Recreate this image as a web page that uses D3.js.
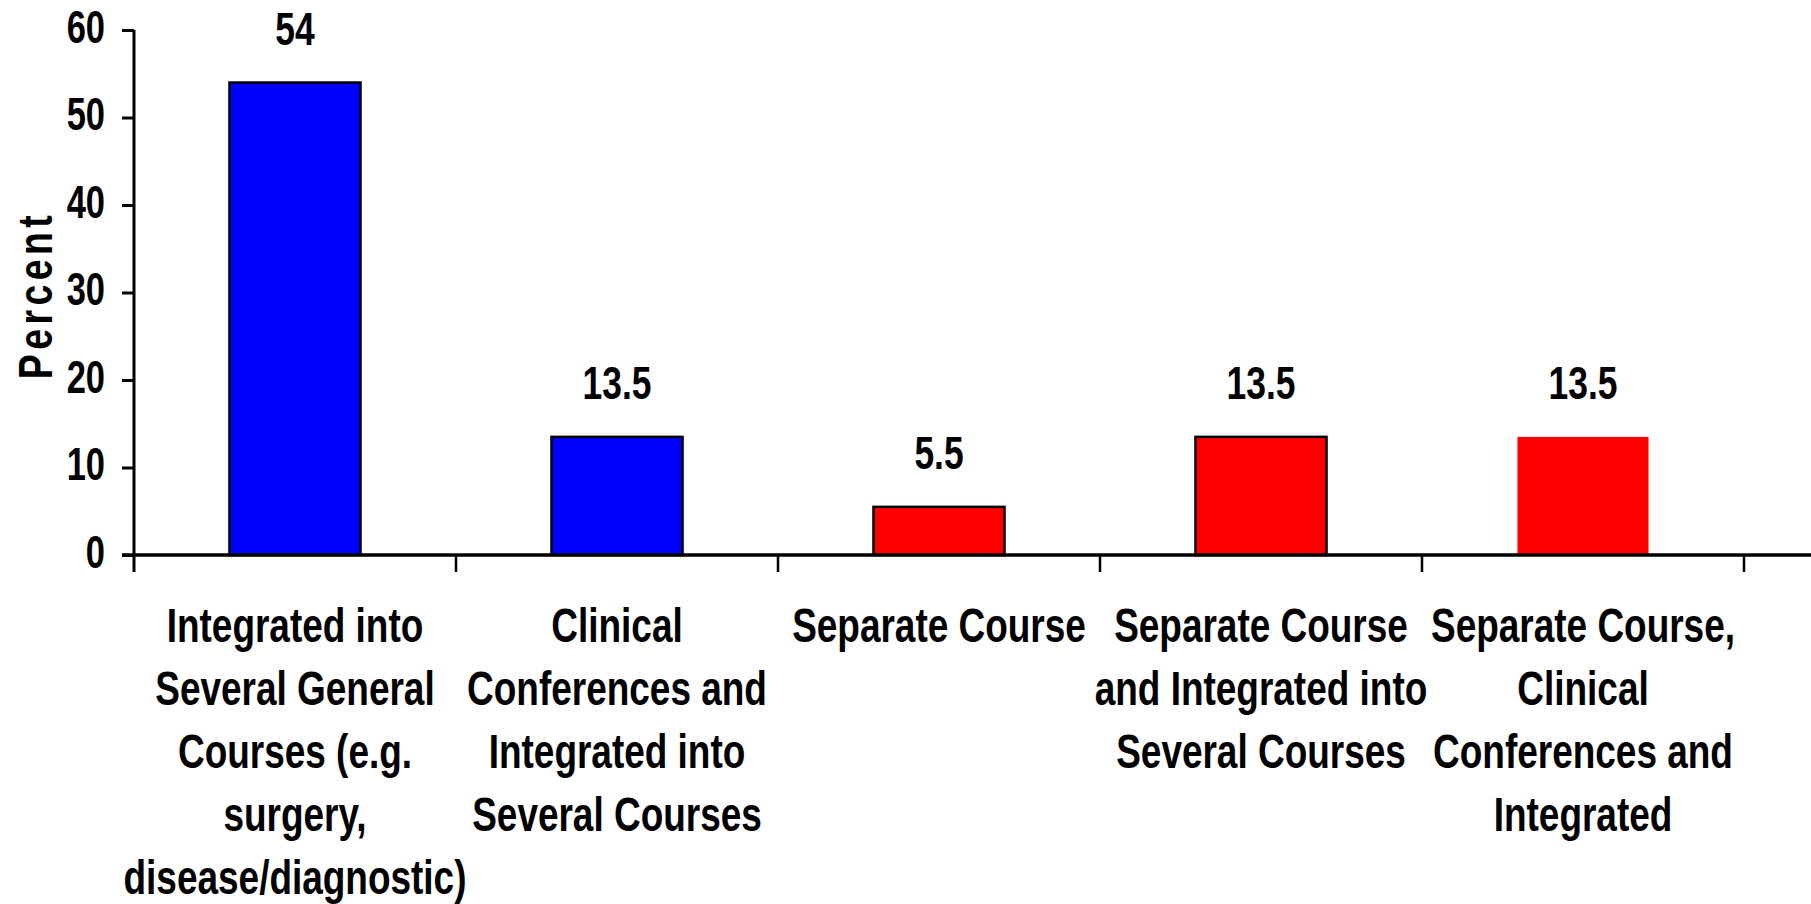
<!DOCTYPE html>
<meta charset="utf-8">
<script src="https://d3js.org/d3.v7.js"></script>
<style type="text/css">
	body { margin: 0; background: #fff; }
	text { font-family: "Liberation Sans", Arial, sans-serif; font-weight: bold; fill: #000; }
</style>
<div id="mychart"></div>

<script>
// curriculum placement chart
const categories = [
	["Integrated into", "Several General", "Courses (e.g.", "surgery,", "disease/diagnostic)"],
	["Clinical", "Conferences and", "Integrated into", "Several Courses"],
	["Separate Course"],
	["Separate Course", "and Integrated into", "Several Courses"],
	["Separate Course,", "Clinical", "Conferences and", "Integrated"]
];
const values = [54, 13.5, 5.5, 13.5, 13.5];
const valueLabels = ["54", "13.5", "5.5", "13.5", "13.5"];
const groups = ["Integrated", "Integrated", "Separate", "Separate", "Separate"];
const yTicks = [0, 10, 20, 30, 40, 50, 60];

const width = 1811, height = 904;
const x0 = 134, step = 322, yBase = 555, yTop = 30;
const narrow = 0.77;

var svg = d3.select("#mychart")
	.append("svg")
	.attr("width", width)
	.attr("height", height);

var idx = d3.range(values.length);

var x = d3.scaleBand()
	.domain(idx)
	.range([x0, x0 + step * values.length])
	.paddingInner(0.593)
	.paddingOuter(0.593 / 2);

var y = d3.scaleLinear()
	.domain([0, 60])
	.range([yBase, yTop]);

var color = d3.scaleOrdinal()
	.domain(["Integrated", "Separate"])
	.range(["#0000FF", "#FF0000"]);

// bars
svg.append("g")
	.selectAll("rect")
	.data(idx)
	.enter().append("rect")
	.attr("x", d => x(d))
	.attr("y", d => y(values[d]))
	.attr("width", x.bandwidth())
	.attr("height", d => yBase - y(values[d]))
	.attr("fill", d => color(groups[d]))
	.attr("stroke", d => d < values.length - 1 ? "#000" : "none")
	.attr("stroke-width", 2.5);

// value labels
svg.append("g")
	.selectAll("text")
	.data(idx)
	.enter().append("text")
	.attr("transform", d => `translate(${x(d) + x.bandwidth() / 2},${y(values[d]) - 38}) scale(${narrow},1)`)
	.attr("text-anchor", "middle")
	.style("font-size", "46px")
	.text(d => valueLabels[d]);

// y axis
var yAxis = d3.axisLeft(y)
	.tickValues(yTicks)
	.tickSize(12)
	.tickPadding(0)
	.tickFormat(d3.format("d"));
var gy = svg.append("g")
	.attr("transform", `translate(${x0},0)`)
	.call(yAxis);
gy.select(".domain").remove();
gy.selectAll(".tick line").attr("stroke", "#000").attr("stroke-width", 3);
gy.selectAll(".tick text")
	.attr("x", null).attr("dy", null)
	.attr("transform", "translate(-29,12) scale(0.75,1)")
	.attr("text-anchor", "end")
	.style("font-size", "46px");
svg.append("line")
	.attr("x1", x0).attr("x2", x0)
	.attr("y1", yTop).attr("y2", yBase + 17)
	.attr("stroke", "#000").attr("stroke-width", 3);

// x axis baseline + boundary ticks
svg.append("line")
	.attr("x1", x0 - 12).attr("x2", width)
	.attr("y1", yBase).attr("y2", yBase)
	.attr("stroke", "#000").attr("stroke-width", 3.5);
svg.append("g")
	.selectAll("line")
	.data(d3.range(1, values.length + 1))
	.enter().append("line")
	.attr("x1", d => x0 + d * x.step()).attr("x2", d => x0 + d * x.step())
	.attr("y1", yBase).attr("y2", yBase + 17)
	.attr("stroke", "#000").attr("stroke-width", 2.5);

// category labels
var cat = svg.append("g")
	.selectAll("text")
	.data(idx)
	.enter().append("text")
	.attr("transform", d => `translate(${x(d) + x.bandwidth() / 2},642) scale(${narrow},1)`)
	.attr("text-anchor", "middle")
	.style("font-size", "48px");
cat.selectAll("tspan")
	.data(d => categories[d])
	.enter().append("tspan")
	.attr("x", 0)
	.attr("dy", (d, i) => i === 0 ? 0 : 63)
	.text(d => d);

// y title
svg.append("text")
	.attr("transform", "translate(52,295) rotate(-90) scale(0.78,1)")
	.attr("text-anchor", "middle")
	.style("font-size", "48px")
	.style("letter-spacing", "5.7px")
	.text("Percent");
</script>
